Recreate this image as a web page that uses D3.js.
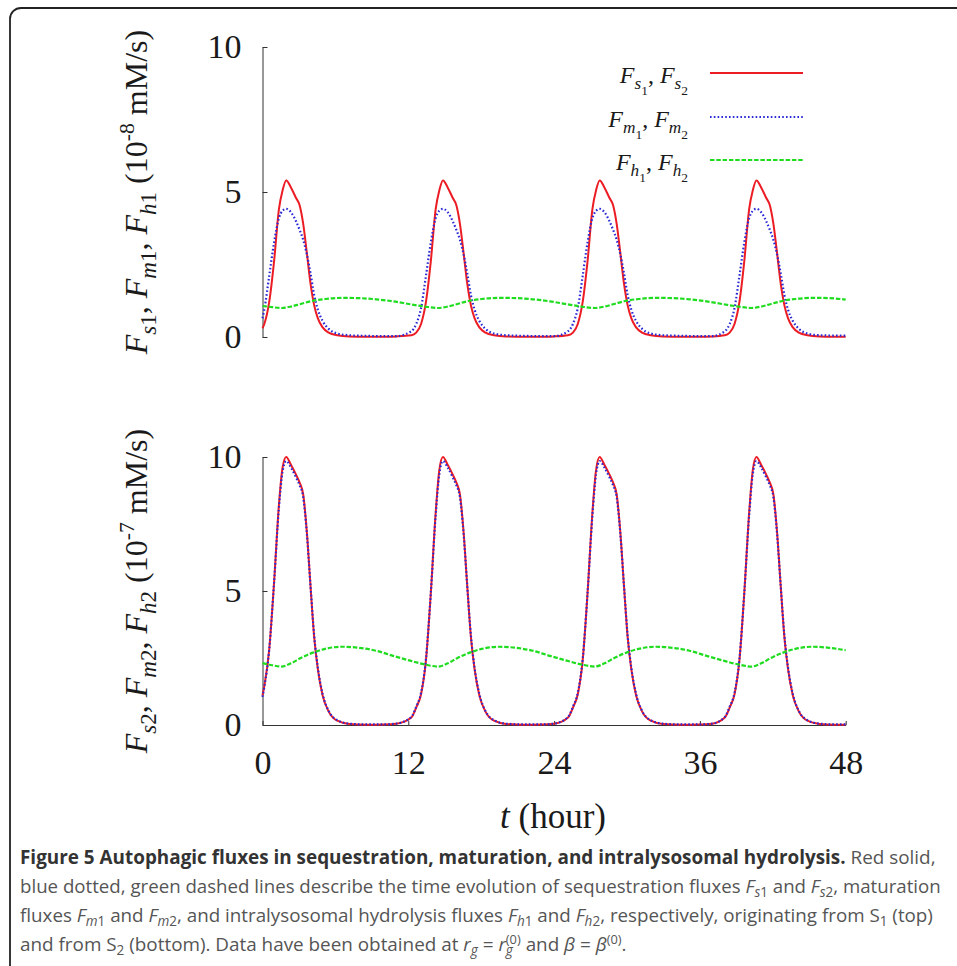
<!DOCTYPE html>
<html>
<head>
<meta charset="utf-8">
<script src="https://cdn.jsdelivr.net/npm/d3@7"></script>
<style>
  html, body { margin: 0; padding: 0; background: #fff; }
  svg { display: block; }
  text { white-space: pre; }
</style>
</head>
<body>
<script>
// ---------------- DATA ----------------
const xTicks = [0, 12, 24, 36, 48];
const yTicks = [0, 5, 10];

// time points (hours) for the pulsed fluxes (sequestration / maturation)
const pulseTimes = [
  0, 0.15, 0.55, 0.95, 1.35, 1.65, 1.95, 2.35, 2.75, 3.05, 3.35, 3.65, 3.95, 4.25, 4.55, 4.95, 5.45, 6.15, 7.15, 8.5, 10.0, 11.0,
  12.25, 12.65, 13.05, 13.45, 13.85, 14.25, 14.55, 14.85, 15.25, 15.65, 15.95, 16.25, 16.55, 16.85, 17.15, 17.45, 17.85, 18.35, 19.05, 20.05, 21.5, 23.0, 24.0,
  25.15, 25.55, 25.95, 26.35, 26.75, 27.15, 27.45, 27.75, 28.15, 28.55, 28.85, 29.15, 29.45, 29.75, 30.05, 30.35, 30.75, 31.25, 31.95, 32.95, 34.5, 36.0, 37.0,
  38.05, 38.45, 38.85, 39.25, 39.65, 40.05, 40.35, 40.65, 41.05, 41.45, 41.75, 42.05, 42.35, 42.65, 42.95, 43.25, 43.65, 44.15, 44.85, 45.85, 47.0, 48.0
];

// top panel (10^-8 mM/s)
const fs1 = [
  0.30, 0.45, 1.2, 2.6, 4.4, 5.05, 5.4, 5.15, 4.8, 4.55, 3.9, 2.9, 1.85, 1.1, 0.65, 0.33, 0.15, 0.06, 0.02, 0.01, 0.01, 0.02,
  0.06, 0.15, 0.45, 1.2, 2.6, 4.4, 5.05, 5.4, 5.15, 4.8, 4.55, 3.9, 2.9, 1.85, 1.1, 0.65, 0.33, 0.15, 0.06, 0.02, 0.01, 0.01, 0.02,
  0.06, 0.15, 0.45, 1.2, 2.6, 4.4, 5.05, 5.4, 5.15, 4.8, 4.55, 3.9, 2.9, 1.85, 1.1, 0.65, 0.33, 0.15, 0.06, 0.02, 0.01, 0.01, 0.02,
  0.06, 0.15, 0.45, 1.2, 2.6, 4.4, 5.05, 5.4, 5.15, 4.8, 4.55, 3.9, 2.9, 1.85, 1.1, 0.65, 0.33, 0.15, 0.06, 0.02, 0.01, 0.01
];
const fm1 = [
  0.65, 0.95, 2.1, 3.25, 4.1, 4.35, 4.42, 4.3, 4.0, 3.7, 3.35, 2.85, 2.2, 1.45, 0.95, 0.55, 0.28, 0.12, 0.06, 0.04, 0.03, 0.03,
  0.2, 0.45, 1.0, 2.1, 3.25, 4.1, 4.35, 4.42, 4.3, 4.0, 3.7, 3.35, 2.85, 2.2, 1.45, 0.95, 0.55, 0.28, 0.12, 0.06, 0.04, 0.03, 0.03,
  0.2, 0.45, 1.0, 2.1, 3.25, 4.1, 4.35, 4.42, 4.3, 4.0, 3.7, 3.35, 2.85, 2.2, 1.45, 0.95, 0.55, 0.28, 0.12, 0.06, 0.04, 0.03, 0.03,
  0.2, 0.45, 1.0, 2.1, 3.25, 4.1, 4.35, 4.42, 4.3, 4.0, 3.7, 3.35, 2.85, 2.2, 1.45, 0.95, 0.55, 0.28, 0.12, 0.06, 0.05, 0.05
];

// bottom panel (10^-7 mM/s)
const fs2 = [
  1.10, 1.45, 2.8, 5.3, 8.2, 9.6, 10.0, 9.7, 9.35, 9.05, 8.6, 7.2, 5.2, 3.3, 2.1, 1.1, 0.5, 0.16, 0.04, 0.01, 0.02, 0.05,
  0.28, 0.65, 1.15, 2.4, 4.9, 7.9, 9.5, 10.0, 9.7, 9.35, 9.05, 8.6, 7.2, 5.2, 3.3, 2.1, 1.1, 0.5, 0.16, 0.04, 0.01, 0.02, 0.05,
  0.28, 0.65, 1.15, 2.4, 4.9, 7.9, 9.5, 10.0, 9.7, 9.35, 9.05, 8.6, 7.2, 5.2, 3.3, 2.1, 1.1, 0.5, 0.16, 0.04, 0.01, 0.02, 0.05,
  0.28, 0.65, 1.15, 2.4, 4.9, 7.9, 9.5, 10.0, 9.7, 9.35, 9.05, 8.6, 7.2, 5.2, 3.3, 2.1, 1.1, 0.5, 0.16, 0.04, 0.01, 0.01
];
const fm2 = [
  1.05, 1.42, 2.8, 5.3, 8.1, 9.45, 9.85, 9.6, 9.25, 8.95, 8.5, 7.15, 5.2, 3.35, 2.15, 1.15, 0.52, 0.18, 0.05, 0.02, 0.02, 0.05,
  0.3, 0.68, 1.2, 2.45, 4.9, 7.8, 9.35, 9.85, 9.6, 9.25, 8.95, 8.5, 7.15, 5.2, 3.35, 2.15, 1.15, 0.52, 0.18, 0.05, 0.02, 0.02, 0.05,
  0.3, 0.68, 1.2, 2.45, 4.9, 7.8, 9.35, 9.85, 9.6, 9.25, 8.95, 8.5, 7.15, 5.2, 3.35, 2.15, 1.15, 0.52, 0.18, 0.05, 0.02, 0.02, 0.05,
  0.3, 0.68, 1.2, 2.45, 4.9, 7.8, 9.35, 9.85, 9.6, 9.25, 8.95, 8.5, 7.15, 5.2, 3.35, 2.15, 1.15, 0.52, 0.18, 0.05, 0.02, 0.02
];

// time points (hours) for the hydrolysis fluxes
const hydroTimes = [
  0, 0.8, 1.55,
  2.35, 3.15, 4.15, 5.15, 6.55, 7.95, 9.35, 10.75, 12.15, 13.35, 14.45,
  15.25, 16.05, 17.05, 18.05, 19.45, 20.85, 22.25, 23.65, 25.05, 26.25, 27.35,
  28.15, 28.95, 29.95, 30.95, 32.35, 33.75, 35.15, 36.55, 37.95, 39.15, 40.25,
  41.05, 41.85, 42.85, 43.85, 45.25, 46.65, 48.0
];
const fh1 = [
  1.07, 1.03, 1.00,
  1.05, 1.14, 1.25, 1.31, 1.35, 1.34, 1.30, 1.23, 1.13, 1.05, 1.00,
  1.05, 1.14, 1.25, 1.31, 1.35, 1.34, 1.30, 1.23, 1.13, 1.05, 1.00,
  1.05, 1.14, 1.25, 1.31, 1.35, 1.34, 1.30, 1.23, 1.13, 1.05, 1.00,
  1.05, 1.14, 1.25, 1.31, 1.35, 1.34, 1.29
];
const fh2 = [
  2.31, 2.23, 2.18,
  2.30, 2.50, 2.70, 2.84, 2.92, 2.88, 2.77, 2.58, 2.40, 2.26, 2.18,
  2.30, 2.50, 2.70, 2.84, 2.92, 2.88, 2.77, 2.58, 2.40, 2.26, 2.18,
  2.30, 2.50, 2.70, 2.84, 2.92, 2.88, 2.77, 2.58, 2.40, 2.26, 2.18,
  2.30, 2.50, 2.70, 2.84, 2.92, 2.88, 2.79
];

// ---------------- DRAWING ----------------
const W = 957, H = 966;
const serif = "'Liberation Serif','Times New Roman',Times,serif";
const sans = "'Open Sans','Noto Sans',sans-serif";
const svg = d3.select('body').append('svg').attr('width', W).attr('height', H);

// frame
svg.append('rect').attr('x', 10).attr('y', 8).attr('width', 970).attr('height', 980)
  .attr('rx', 11).attr('fill', 'none').attr('stroke', '#222').attr('stroke-width', 1.8);

const x = d3.scaleLinear().domain([0, 48]).range([262.5, 845.7]);
const yTop = d3.scaleLinear().domain([0, 10]).range([337, 47]);
const yBot = d3.scaleLinear().domain([0, 10]).range([725, 457]);

const styles = {
  s: { stroke: '#ec1c24', width: 2, dash: null },
  m: { stroke: '#2a2ad6', width: 2.2, dash: '1.6,2.2' },
  h: { stroke: '#1fdc1f', width: 2.2, dash: '4.5,1.8' }
};

function styleAxis(g) {
  g.selectAll('path.domain, line').attr('stroke', '#333').attr('stroke-width', 1);
  g.selectAll('text').attr('font-family', serif).attr('font-size', 34).attr('fill', '#1a1a1a');
}

// y axes
[yTop, yBot].forEach(y => {
  svg.append('g').attr('transform', `translate(${x(0)},0)`)
    .call(d3.axisLeft(y).tickValues(yTicks).tickSizeInner(-5).tickSizeOuter(0).tickPadding(21).tickFormat(d3.format('d')))
    .call(styleAxis);
});
// bottom x axis
svg.append('g').attr('transform', `translate(0,${yBot(0)})`)
  .call(d3.axisBottom(x).tickValues(xTicks).tickSizeInner(-4).tickSizeOuter(0).tickPadding(25).tickFormat(d3.format('d')))
  .call(styleAxis);

function drawLine(times, vals, y, st) {
  const line = d3.line().x(d => x(d[0])).y(d => y(d[1])).curve(d3.curveMonotoneX);
  const p = svg.append('path').datum(d3.zip(times, vals)).attr('d', line)
    .attr('fill', 'none').attr('stroke', st.stroke).attr('stroke-width', st.width)
    .attr('stroke-linejoin', 'round');
  if (st.dash) p.attr('stroke-dasharray', st.dash);
}
drawLine(pulseTimes, fs1, yTop, styles.s);
drawLine(pulseTimes, fm1, yTop, styles.m);
drawLine(hydroTimes, fh1, yTop, styles.h);
drawLine(pulseTimes, fs2, yBot, styles.s);
drawLine(pulseTimes, fm2, yBot, styles.m);
drawLine(hydroTimes, fh2, yBot, styles.h);

// math-text helper: tokens [text, italic, level]; level 0 base, 1 sub, 2 sub-sub, -1 sup
const lvlOff = { '0': 0, '1': 0.27, '2': 0.5, '-1': -0.42 };
const lvlSize = { '0': 1, '1': 0.72, '2': 0.56, '-1': 0.68 };
function mathText(t, tokens, fs, offScale = 1) {
  let cur = 0;
  tokens.forEach(([txt, it, lvl, extra]) => {
    const off = lvlOff[String(lvl)] * fs * offScale;
    const ts = t.append('tspan').attr('dy', off - cur).attr('font-size', lvlSize[String(lvl)] * fs)
      .attr('font-style', it ? 'italic' : 'normal').text(txt);
    if (extra) Object.entries(extra).forEach(([k, v]) => ts.attr(k, v));
    cur = off;
  });
  if (cur !== 0) t.append('tspan').attr('dy', -cur).text('');
  return t;
}

// y axis titles
function yTitle(cx, cy, idx, exp) {
  const t = svg.append('text').attr('transform', `translate(${cx},${cy}) rotate(-90)`)
    .attr('text-anchor', 'middle').attr('font-family', serif).attr('font-size', 32).attr('fill', '#1a1a1a');
  mathText(t, [
    ['F', 1, 0], ['s', 1, 1], [idx, 0, 1], [', ', 0, 0],
    ['F', 1, 0], ['m', 1, 1], [idx, 0, 1], [', ', 0, 0],
    ['F', 1, 0], ['h', 1, 1], [idx, 0, 1], [' (10', 0, 0], [exp, 0, -1], [' mM/s)', 0, 0]
  ], 32);
}
yTitle(147, 192, '1', '-8');
yTitle(147, 591, '2', '-7');

// x axis title
const xt = svg.append('text').attr('x', 553).attr('y', 828).attr('text-anchor', 'middle')
  .attr('font-family', serif).attr('font-size', 35).attr('fill', '#1a1a1a');
xt.append('tspan').attr('font-style', 'italic').text('t');
xt.append('tspan').text(' (hour)');

// legend
const legendItems = [
  { key: 's', y: 73 }, { key: 'm', y: 117 }, { key: 'h', y: 160 }
];
legendItems.forEach(it => {
  const st = styles[it.key];
  const l = svg.append('line').attr('x1', 710).attr('x2', 803).attr('y1', it.y).attr('y2', it.y)
    .attr('stroke', st.stroke).attr('stroke-width', st.width);
  if (st.dash) l.attr('stroke-dasharray', st.dash);
  const t = svg.append('text').attr('x', 688).attr('y', it.y + 10).attr('text-anchor', 'end')
    .attr('font-family', serif).attr('font-size', 24).attr('fill', '#1a1a1a');
  mathText(t, [['F', 1, 0], [it.key, 1, 1], ['1', 0, 2], [', ', 0, 0], ['F', 1, 0], [it.key, 1, 1], ['2', 0, 2]], 24);
});

// caption
const capFs = 19;
const capLines = [
  { y: 864, w: 916, tokens: [
    ['Figure 5 Autophagic fluxes in sequestration, maturation, and intralysosomal hydrolysis.', 0, 0, { 'font-weight': 'bold', fill: '#333' }],
    [' Red solid,', 0, 0]
  ] },
  { y: 893, w: 921, tokens: [
    ['blue dotted, green dashed lines describe the time evolution of sequestration fluxes ', 0, 0],
    ['F', 1, 0], ['s', 1, 1], ['1', 0, 1], [' and ', 0, 0], ['F', 1, 0], ['s', 1, 1], ['2', 0, 1], [', maturation', 0, 0]
  ] },
  { y: 922, w: 914, tokens: [
    ['fluxes ', 0, 0], ['F', 1, 0], ['m', 1, 1], ['1', 0, 1], [' and ', 0, 0], ['F', 1, 0], ['m', 1, 1], ['2', 0, 1],
    [', and intralysosomal hydrolysis fluxes ', 0, 0], ['F', 1, 0], ['h', 1, 1], ['1', 0, 1], [' and ', 0, 0], ['F', 1, 0], ['h', 1, 1], ['2', 0, 1],
    [', respectively, originating from S', 0, 0], ['1', 0, 1], [' (top)', 0, 0]
  ] },
  { y: 951, w: 607, tokens: [
    ['and from S', 0, 0], ['2', 0, 1], [' (bottom). Data have been obtained at ', 0, 0],
    ['r', 1, 0], ['g', 1, 1], [' = ', 0, 0], ['r', 1, 0], ['g', 1, 1, { class: 'gsub' }], ['(0)', 0, -1, { class: 'sup0' }],
    [' and ', 0, 0], ['β', 1, 0], [' = ', 0, 0], ['β', 1, 0], ['(0)', 0, -1], ['.', 0, 0]
  ] }
];
capLines.forEach(cl => {
  const t = svg.append('text').attr('x', 0).attr('y', 0)
    .attr('font-family', sans).attr('font-size', capFs).attr('fill', '#555');
  mathText(t, cl.tokens, capFs, 0.85);
  const g = t.select('.gsub');
  if (!g.empty()) {
    const gw = g.node().getComputedTextLength();
    t.select('.sup0').attr('dx', -gw);
  }
  const w = t.node().getBBox().width;
  t.attr('transform', `translate(20,${cl.y}) scale(${cl.w / w},1)`);
});
</script>
</body>
</html>
